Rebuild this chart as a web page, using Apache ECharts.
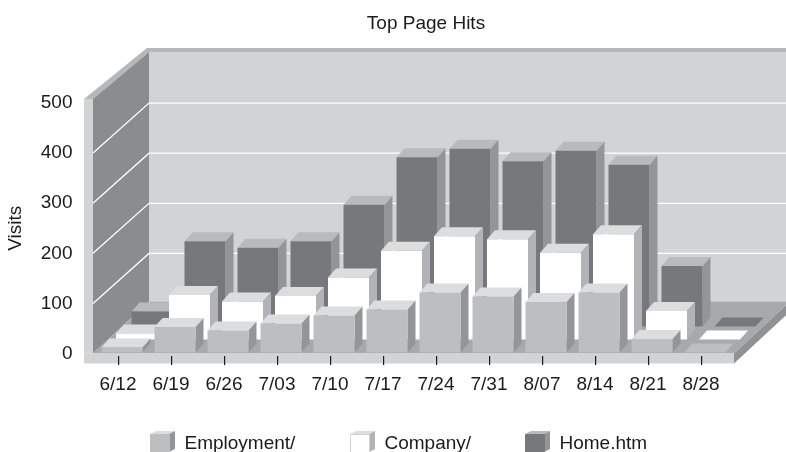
<!DOCTYPE html>
<html><head><meta charset="utf-8">
<style>html,body{margin:0;padding:0;background:#fff}#c{width:786px;height:452px}</style>
<script src="https://cdn.jsdelivr.net/npm/echarts@6/dist/echarts.min.js"></script>
</head><body><div id="c"></div>
<script>
var categories = ['6/12','6/19','6/26','7/03','7/10','7/17','7/24','7/31','8/07','8/14','8/21','8/28'];
var employment = [10,51,44,58,74,86,120,112,101,120,27,0];
var company    = [12,89,76,87,124,177,206,200,173,210,57,0];
var home       = [30,170,157,170,243,338,355,330,351,323,121,0];
var yTicks     = [0,100,200,300,400,500];

var INK = '#1c1a1b', FONT = 'Liberation Sans, Arial, sans-serif', FS = 19;
var DEPTH_X = 56, DEPTH_Y = 52;          // projection of the room depth
var BAR_W = 41, BAR_DX = 8, BAR_DY = 9;  // bar width and depth
var ROWS = [
  {name:'Employment/', data:employment, ox:4,    oy:-1,  front:'#bcbec0', top:'#dcddde', side:'#939598', stroke:'#bcbec0'},
  {name:'Company/',    data:company,    ox:18.5, oy:-14, front:'#ffffff', top:'#dcddde', side:'#b1b3b6', stroke:'#d1d3d4'},
  {name:'Home.htm',    data:home,       ox:34,   oy:-27, front:'#77787b', top:'#b9babc', side:'#939598', stroke:'#77787b'}
];

function poly(pts, fill) {
  return {type:'polygon', shape:{points:pts}, style:{fill:fill, stroke:null}, silent:true};
}
function renderFrame(params, api) {
  var o = api.coord([0,0]), t = api.coord([0,500]), s = api.size([1,0]);
  var L = o[0]-s[0]/2+1.5, R = o[0]+s[0]*11.5+6.5, B = o[1], T = t[1]-4;
  var kids = [];
  // back wall, top band, left wall, strip
  kids.push(poly([[L+DEPTH_X,T-47],[R+DEPTH_X,T-47],[R+DEPTH_X,B-DEPTH_Y],[L+DEPTH_X,B-DEPTH_Y]],'#d1d3d4'));
  kids.push(poly([[L+DEPTH_X-2,T-51],[R+DEPTH_X,T-51],[R+DEPTH_X,T-47],[L+DEPTH_X,T-47],[L,T],[L-9,T]],'#b5b7b9'));
  kids.push(poly([[L,T],[L+DEPTH_X,T-47],[L+DEPTH_X,B-DEPTH_Y],[L,B]],'#8a8c8f'));
  kids.push(poly([[L-9,T],[L,T],[L,B],[L-9,B]],'#d1d3d4'));
  // grid lines on the walls
  yTicks.slice(1,5).forEach(function(v){
    var y = api.coord([0,v])[1];
    kids.push({type:'polyline',shape:{points:[[L,y],[L+DEPTH_X,y-50],[R+DEPTH_X,y-50]]},
      style:{stroke:'#ffffff',lineWidth:1.3,fill:null},silent:true});
  });
  // floor and slab
  kids.push(poly([[L,B],[L+DEPTH_X,B-DEPTH_Y],[R+DEPTH_X,B-DEPTH_Y],[R,B]],'#a7a9ac'));
  kids.push(poly([[L-9,B],[R,B],[R,B+10],[L-9,B+10]],'#d1d3d4'));
  kids.push(poly([[R,B],[R+DEPTH_X,B-DEPTH_Y],[R+DEPTH_X,B-DEPTH_Y+10],[R,B+10]],'#8f9193'));
  // category ticks on the slab
  categories.forEach(function(c,i){
    var x = Math.round(api.coord([i,0])[0]);
    kids.push(poly([[x,B+2.5],[x+1.2,B+2.5],[x+1.2,B+11.5],[x,B+11.5]],INK));
  });
  return {type:'group',children:kids};
}
function makeBar(row) {
  return function(params, api) {
    var i = api.value(0), v = api.value(1);
    var p0 = api.coord([i,0]), p1 = api.coord([i,v]);
    var x0 = p0[0]+row.ox-BAR_W/2, x1 = x0+BAR_W, yb = p0[1]+row.oy, yt = p1[1]+row.oy;
    var kids = [];
    kids.push(poly([[x0,yt],[x0+BAR_DX,yt-BAR_DY],[x1+BAR_DX,yt-BAR_DY],[x1,yt]], v>0?row.top:row.front));
    if (v>0) {
      kids.push(poly([[x1,yt],[x1+BAR_DX,yt-BAR_DY],[x1+BAR_DX,yb-BAR_DY],[x1,yb]], row.side));
      kids.push(poly([[x0,yt],[x1,yt],[x1,yb],[x0,yb]], row.front));
    }
    return {type:'group',children:kids};
  };
}
var series = [{type:'custom',silent:true,data:[[0,0]],renderItem:renderFrame,z:1,encode:{x:0,y:1}}];
[2,1,0].forEach(function(k){
  var row = ROWS[k];
  series.push({type:'custom',name:row.name,silent:true,z:2+(2-k),
    itemStyle:{color:row.front,borderColor:row.stroke},
    data:row.data.map(function(v,i){return [i,v];}),
    encode:{x:0,y:1},renderItem:makeBar(row)});
});
var legendX = [150,350,525];
var legends = ROWS.map(function(r,i){
  return {left:legendX[i],top:434,padding:0,itemWidth:19,itemHeight:18,icon:'rect',data:[r.name],selectedMode:false,
    itemStyle:{borderColor:r.stroke,borderWidth:1},
    textStyle:{color:INK,fontFamily:FONT,fontSize:FS,padding:[0,0,0,10]}};
});
var cubes = [];
ROWS.forEach(function(r,i){
  var x = legendX[i];
  cubes.push({type:'polygon',shape:{points:[[x,434],[x+6,431],[x+25,431],[x+19,434]]},style:{fill:r.top}});
  cubes.push({type:'polygon',shape:{points:[[x+19,434],[x+25,431],[x+25,449],[x+19,452]]},style:{fill:r.side}});
});
var chart = echarts.init(document.getElementById('c'),null,{renderer:'canvas'});
chart.setOption({
  animation:false,
  backgroundColor:'#ffffff',
  title:{text:'Top Page Hits',left:421,top:9,textAlign:'center',
    textStyle:{color:INK,fontFamily:FONT,fontSize:FS,fontWeight:'normal'}},
  grid:{left:91.5,top:103,width:636,height:250.5,containLabel:false,outerBoundsMode:'none'},
  xAxis:{type:'category',data:categories,offset:2,
    axisLine:{show:false},axisTick:{show:false},
    axisLabel:{color:INK,fontFamily:FONT,fontSize:FS,margin:20,interval:0},splitLine:{show:false}},
  yAxis:{type:'value',min:0,max:500,interval:100,
    name:'Visits',nameLocation:'middle',nameGap:66,nameRotate:90,
    nameTextStyle:{color:INK,fontFamily:FONT,fontSize:FS},
    axisLine:{show:false},axisTick:{show:false},splitLine:{show:false},
    axisLabel:{color:INK,fontFamily:FONT,fontSize:FS,margin:19}},
  legend:legends,
  graphic:cubes,
  series:series
});
</script></body></html>
